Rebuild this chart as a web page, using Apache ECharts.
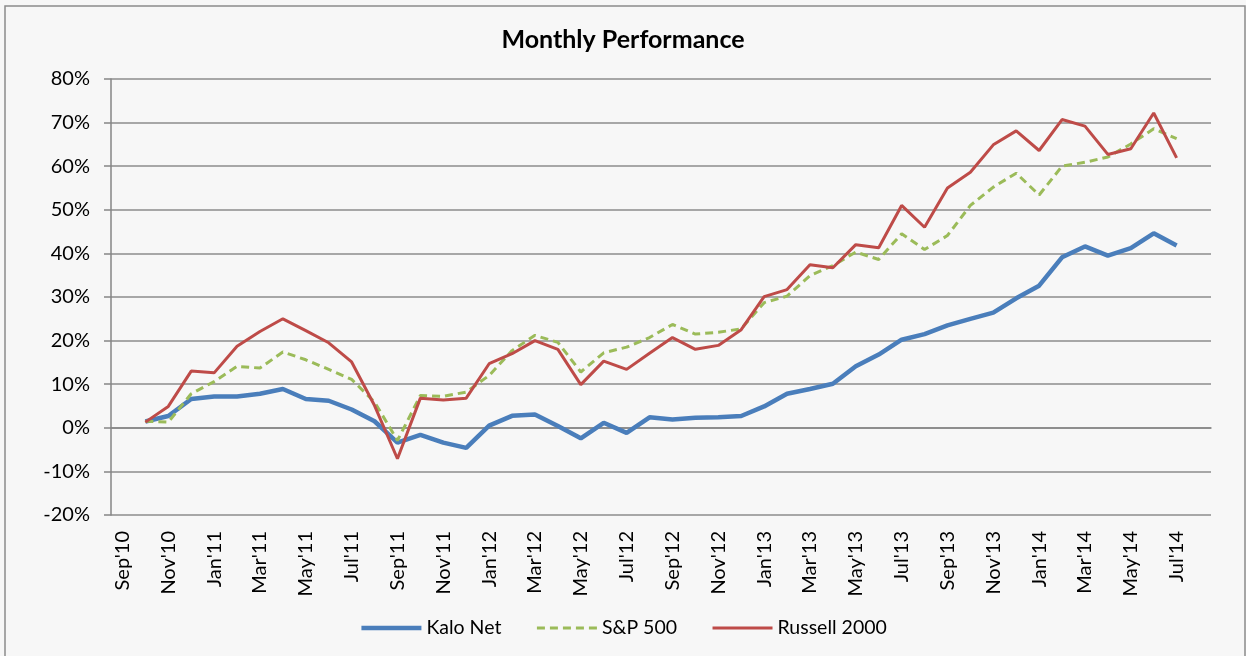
<!DOCTYPE html>
<html>
<head>
<meta charset="utf-8">
<title>Monthly Performance</title>
<script src="https://cdn.jsdelivr.net/npm/echarts@6.0.0/dist/echarts.min.js"></script>
<style>
html,body{margin:0;padding:0;background:#f7f7f7;}
#perfContainer{width:1246px;height:656px;}
</style>
</head>
<body>
<div id="perfContainer"></div>
<script>
// months on the axis, Sep'10 .. Aug'14 (labels shown every other month)
var months=["Sep'10","Oct'10","Nov'10","Dec'10","Jan'11","Feb'11","Mar'11","Apr'11","May'11","Jun'11","Jul'11","Aug'11",
	"Sep'11","Oct'11","Nov'11","Dec'11","Jan'12","Feb'12","Mar'12","Apr'12","May'12","Jun'12","Jul'12","Aug'12",
	"Sep'12","Oct'12","Nov'12","Dec'12","Jan'13","Feb'13","Mar'13","Apr'13","May'13","Jun'13","Jul'13","Aug'13",
	"Sep'13","Oct'13","Nov'13","Dec'13","Jan'14","Feb'14","Mar'14","Apr'14","May'14","Jun'14","Jul'14","Aug'14"];

// cumulative returns in %, Oct'10 .. Jul'14
var kaloNet=[1.45,2.7,6.6,7.2,7.2,7.8,8.9,6.6,6.2,4.2,1.5,-3.4,
	-1.6,-3.4,-4.6,0.5,2.75,3.06,0.4,-2.4,1.15,-1.15,2.4,1.9,
	2.3,2.4,2.7,4.9,7.8,8.9,10.1,14.1,16.8,20.2,21.5,23.5,
	25.0,26.4,29.7,32.6,39.1,41.6,39.5,41.2,44.6,41.8];
var sp500=[1.5,1.3,7.8,10.6,14.1,13.7,17.4,15.6,13.4,11.1,5.9,-2.9,
	7.4,7.2,8.2,12.0,17.7,21.2,19.6,12.8,17.2,18.5,20.7,23.7,
	21.5,21.9,22.7,28.7,30.2,34.9,37.2,40.3,38.6,44.5,40.9,44.1,
	51.0,55.2,58.4,53.4,60.0,60.9,62.1,65.1,68.6,66.3];
var russell2000=[1.3,4.9,13.0,12.6,18.7,22.1,25.0,22.3,19.5,15.1,5.1,-7.1,
	6.8,6.4,6.8,14.7,17.0,20.0,18.0,9.9,15.3,13.4,17.1,20.7,
	18.0,18.9,22.5,30.1,31.7,37.4,36.7,42.0,41.3,51.0,46.0,55.0,
	58.6,64.9,68.1,63.6,70.7,69.2,62.7,64.0,72.2,61.9];

var yTicks={min:-20,max:80,step:10};

// no value for Sep'10 and Aug'14
function padSeries(arr){
	return [null].concat(arr).concat([null]);
}

function showPerformance(){
	var dom=document.getElementById("perfContainer");
	var myChart=echarts.init(dom,null,{renderer:'canvas'});
	var font='Lato';
	var option={
		backgroundColor:'#f7f7f7',
		textStyle:{fontFamily:font},
		title:{
			text:'Monthly Performance',
			left:'center',top:22,
			textStyle:{fontFamily:font,fontSize:25,fontWeight:'bold',color:'#000'}
		},
		graphic:[{
			type:'rect',
			shape:{x:5,y:6,width:1240,height:700},
			style:{fill:null,stroke:'#8c8c8c',lineWidth:1.5},
			silent:true
		}],
		legend:{
			bottom:13,left:'center',
			itemWidth:60,itemHeight:5,itemGap:34,
			itemStyle:{opacity:0},//hide the little dot on the line icon
			textStyle:{fontFamily:font,fontSize:19.5,color:'#000'},
			data:[
				{name:'Kalo Net',lineStyle:{width:4.5}},
				{name:'S&P 500',lineStyle:{width:3}},
				{name:'Russell 2000',lineStyle:{width:3}}
			]
		},
		grid:{left:111,right:35,top:79,bottom:141,containLabel:false},
		xAxis:{
			type:'category',
			data:months,
			boundaryGap:true,
			axisLine:{lineStyle:{color:'#868686',width:1.5}},
			axisTick:{show:false},
			axisLabel:{interval:1,rotate:90,margin:16,fontSize:20,color:'#000',fontFamily:font},
			splitLine:{show:false}
		},
		yAxis:{
			type:'value',
			min:yTicks.min,max:yTicks.max,interval:yTicks.step,
			axisLine:{show:true,lineStyle:{color:'#868686',width:1.5}},
			axisTick:{show:true,inside:false,length:7,lineStyle:{color:'#868686',width:1.5}},
			axisLabel:{formatter:'{value}%',margin:21,fontSize:20,color:'#000',fontFamily:font},
			splitLine:{lineStyle:{color:'#8c8c8c',width:1.5}}
		},
		series:[
			{
				name:'Kalo Net',type:'line',data:padSeries(kaloNet),
				symbol:'none',showSymbol:false,
				lineStyle:{color:'#4a7ebb',width:4.5},
				itemStyle:{color:'#4a7ebb'}
			},
			{
				name:'S&P 500',type:'line',data:padSeries(sp500),
				symbol:'none',showSymbol:false,
				lineStyle:{color:'#9bbb59',width:3,type:[8,5]},
				itemStyle:{color:'#9bbb59'}
			},
			{
				name:'Russell 2000',type:'line',data:padSeries(russell2000),
				symbol:'none',showSymbol:false,
				lineStyle:{color:'#be4b48',width:3},
				itemStyle:{color:'#be4b48'}
			}
		]
	};
	myChart.setOption(option,true);
}

showPerformance();
</script>
</body>
</html>
